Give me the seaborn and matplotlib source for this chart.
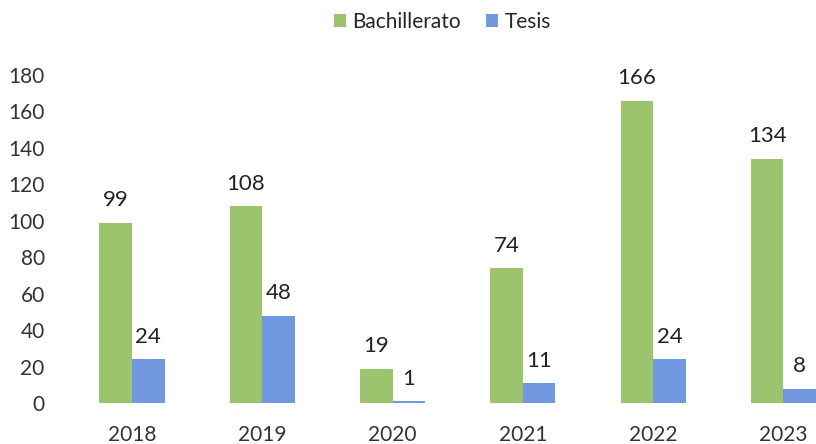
import pandas as pd
import matplotlib.pyplot as plt
import seaborn as sns

# ===================== Data =====================
years = ["2018", "2019", "2020", "2021", "2022", "2023"]
bachillerato = [99, 108, 19, 74, 166, 134]
tesis = [24, 48, 1, 11, 24, 8]
series = ["Bachillerato", "Tesis"]
colors = ["#9cc46f", "#7299e0"]

df = pd.DataFrame({
    "year": years * 2,
    "value": bachillerato + tesis,
    "serie": [series[0]] * len(years) + [series[1]] * len(years),
})

# ===================== Plot =====================
sns.set_style("white")
plt.rcParams["font.family"] = ["Lato", "DejaVu Sans"]

fig = plt.figure(figsize=(8.16, 4.44), dpi=100)
ax = fig.add_axes([0.082, 0.092, 0.958, 0.739])

sns.barplot(data=df, x="year", y="value", hue="serie", palette=colors,
            width=0.5, gap=0, saturation=1, linewidth=0, ax=ax, legend=True)

for cont in ax.containers:
    ax.bar_label(cont, padding=9, fontsize=16, color="#222222")

ax.set_ylim(0, 180)
ax.set_yticks(range(0, 181, 20))
ax.set_xlabel("")
ax.set_ylabel("")
ax.tick_params(axis="y", labelsize=15, colors="#333333", length=0, pad=16)
ax.tick_params(axis="x", labelsize=15, colors="#333333", length=0, pad=16)
sns.despine(ax=ax, left=True, bottom=True, top=True, right=True)

handles, labels = ax.get_legend_handles_labels()
ax.get_legend().remove()
fig.legend(handles, labels, loc="center", bbox_to_anchor=(0.542, 0.95),
           ncol=2, frameon=False, fontsize=15, handlelength=0.6,
           handleheight=0.6, handletextpad=0.3, columnspacing=1.2)

fig.savefig("out.png", dpi=100)
